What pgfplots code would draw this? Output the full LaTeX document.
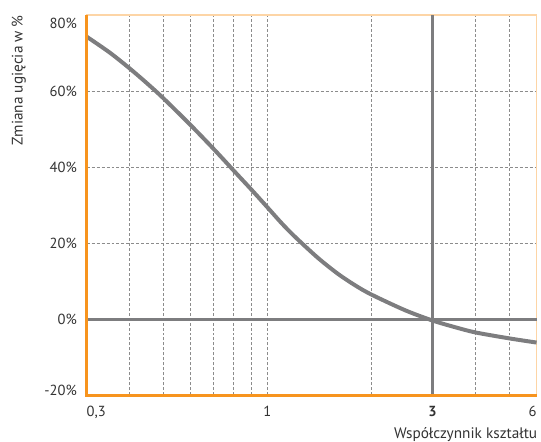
\documentclass[border=0pt]{standalone}
\usepackage{fontspec}
\setmainfont{PT Sans}
\usepackage{pgfplots}
\pgfplotsset{compat=1.18}

\definecolor{orangeaxis}{HTML}{F7941E}
\definecolor{orangelight}{HTML}{FDD5A6}
\definecolor{curvegray}{HTML}{7D7D7F}
\definecolor{txtgray}{HTML}{333333}
\definecolor{gridgray}{HTML}{8C8C8C}

\begin{document}
\begin{tikzpicture}
\begin{axis}[
    scale only axis,
    width=339pt,
    height=286.5pt,
    xmode=log,
    xmin=0.3, xmax=6,
    ymin=-20, ymax=80,
    clip=false,
    xtick={0.3,1,6},
    xticklabels={{\makebox[0pt][l]{0,3}},1,{\makebox[0pt][r]{6}}},
    minor xtick={0.4,0.5,0.6,0.7,0.8,0.9,2,4,5},
    extra x ticks={3},
    extra x tick labels={\textbf{3}},
    extra x tick style={grid=major, major grid style={solid, draw=curvegray, line width=2.25pt}},
    ytick={-20,20,40,60,80},
    yticklabels={{\raisebox{3.75pt}{-20\%}},20\%,40\%,60\%,{\raisebox{-6pt}{80\%}}},
    extra y ticks={0},
    extra y tick labels={0\%},
    extra y tick style={grid=major, major grid style={solid, draw=curvegray, line width=2.25pt}},
    xmajorgrids, xminorgrids, ymajorgrids,
    major grid style={dash pattern=on 2.25pt off 1.5pt, draw=gridgray, line width=0.75pt},
    minor grid style={dash pattern=on 2.25pt off 1.5pt, draw=gridgray, line width=0.75pt},
    major tick length=0pt,
    minor tick length=0pt,
    axis line style={draw=orangelight, line width=1.1pt},
    tick label style={font=\fontsize{11}{13}\selectfont, text=txtgray},
    xticklabel style={anchor=base, yshift=-15.75pt},
    yticklabel style={anchor=base east, yshift=-4pt, xshift=-3.8pt},
    label style={font=\fontsize{11.5}{13.5}\selectfont, text=txtgray, inner sep=0pt},
    xlabel={Współczynnik kształtu},
    xlabel style={at={(axis description cs:1.002,-0.1126)}, anchor=base east},
    ylabel={Zmiana ugięcia w \%},
    ylabel style={at={(axis description cs:-0.142,1)}, anchor=base east},
]

\addplot[curvegray, line width=3pt, smooth, no marks] coordinates {
    (0.3,74.3) (0.35,70.1) (0.4,65.9) (0.45,61.9) (0.5,58.1) (0.6,51.0)
    (0.7,44.7) (0.8,39.0) (0.9,34.0) (1,29.4) (1.1,25.2) (1.2,21.7)
    (1.4,16.1) (1.6,11.9) (1.8,8.8) (2,6.45) (2.5,2.35) (3,-0.35)
    (3.5,-2.15) (4,-3.5) (5,-5.05) (6,-6.15)
};

\draw[orangeaxis, line width=2.1pt] (rel axis cs:0,1) -- (rel axis cs:0,0) -- (rel axis cs:1,0);

\coordinate (bbSW) at (rel axis cs:-0.1925,-0.123);
\coordinate (bbNE) at (rel axis cs:1.0044,1.0393);
\end{axis}
\path (bbSW) rectangle (bbNE);
\end{tikzpicture}
\end{document}
